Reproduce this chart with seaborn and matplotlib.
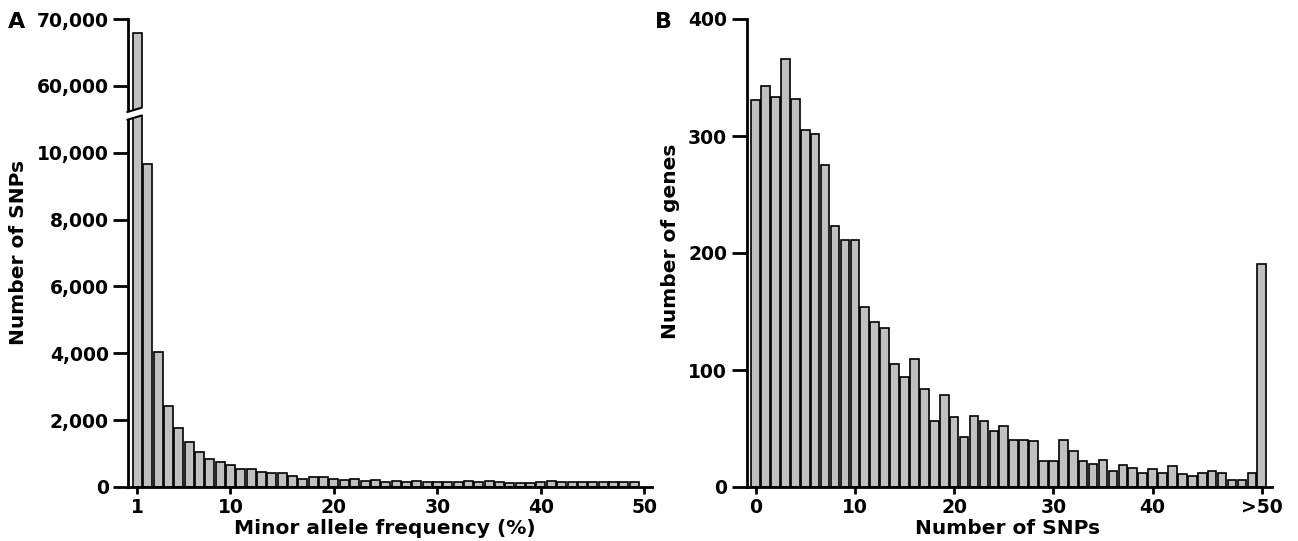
import numpy as np
import seaborn as sns
import matplotlib.pyplot as plt
from matplotlib.lines import Line2D
from matplotlib.patches import Polygon

# Panel A: minor allele frequency (%) bins 1..49
maf_pct = list(range(1, 50))
maf_counts = [67850, 9660, 4040, 2420, 1755, 1355, 1035, 840, 740, 650,
              530, 525, 460, 410, 405, 340, 250, 290, 310, 250,
              210, 240, 190, 210, 150, 190, 160, 170, 150, 150,
              150, 150, 170, 150, 170, 140, 130, 130, 130, 140,
              190, 160, 160, 160, 140, 140, 140, 140, 140]
maf_ticks = [1, 10, 20, 30, 40, 50]

# Panel B: number of SNPs per gene, 0..50 and ">50" (drawn at 51)
snp_bins = list(range(0, 52))
gene_counts = [331, 343, 333, 366, 332, 305, 302, 275, 223, 211,
               211, 154, 141, 136, 105, 94, 109, 84, 56, 79,
               60, 43, 61, 56, 48, 52, 40, 40, 39, 22,
               22, 40, 31, 22, 20, 23, 14, 19, 16, 12,
               15, 12, 18, 11, 9, 12, 14, 12, 6, 6,
               12, 191]
snp_ticks = [0, 10, 20, 30, 40, 51]
snp_ticklabels = ["0", "10", "20", "30", "40", ">50"]

sns.set_theme(style="white")
plt.rcParams["font.family"] = ["DejaVu Sans"]
plt.rcParams["font.weight"] = "bold"
plt.rcParams["text.color"] = "black"
plt.rcParams["axes.labelcolor"] = "black"
plt.rcParams["xtick.color"] = "black"
plt.rcParams["ytick.color"] = "black"

W, H = 1298, 541
fig = plt.figure(figsize=(W / 100, H / 100), dpi=100)


def fx(px):
    return px / W


def fy(py):
    return 1 - py / H


bar_kw = dict(native_scale=True, width=0.87, color="#c0c0c0", saturation=1,
              edgecolor="black", linewidth=1.2, errorbar=None)
fs = 13.5
lfs = 14.5


def style(ax, bottom=True):
    for s in ["top", "right"]:
        ax.spines[s].set_visible(False)
    for s in ["left", "bottom"]:
        ax.spines[s].set_linewidth(2)
        ax.spines[s].set_color("black")
    if not bottom:
        ax.spines["bottom"].set_visible(False)
    ax.tick_params(axis="y", length=11, width=2, colors="black", labelsize=fs, pad=3, left=True)
    ax.tick_params(axis="x", length=5, width=2, colors="black", labelsize=fs, pad=3, bottom=bottom)
    for lab in ax.get_xticklabels() + ax.get_yticklabels():
        lab.set_fontweight("bold")
    ax.set_xlabel("")
    ax.set_ylabel("")


# ---- Panel A (broken y axis) ----
ax_lo = fig.add_axes([fx(128.3), fy(487), fx(651.7) - fx(128.3), fy(115) - fy(487)])
ax_up = fig.add_axes([fx(128.3), fy(112), fx(651.7) - fx(128.3), fy(19) - fy(112)])
for ax in (ax_lo, ax_up):
    sns.barplot(x=maf_pct, y=maf_counts, ax=ax, **bar_kw)
    ax.set_xlim(0.13, 50.7)
ax_lo.set_ylim(0, 11130)
ax_up.set_ylim(56060, 70000)
lo_ticks = [0, 2000, 4000, 6000, 8000, 10000]
ax_lo.set_yticks(lo_ticks)
ax_lo.set_yticklabels([f"{v:,}" for v in lo_ticks])
ax_up.set_yticks([60000, 70000])
ax_up.set_yticklabels(["60,000", "70,000"])
ax_lo.set_xticks(maf_ticks)
ax_lo.set_xticklabels([str(t) for t in maf_ticks])
ax_up.set_xticks([])
style(ax_lo)
style(ax_up, bottom=False)
ax_lo.set_xlabel("Minor allele frequency (%)", fontsize=lfs, fontweight="bold")
ax_lo.xaxis.set_label_coords(0.49, -0.085)

# slanted break on the y axis and the first bar
inv = fig.transFigure.inverted()
x_left = inv.transform(ax_lo.transData.transform((0.13, 0)))[0]
x_right = inv.transform(ax_lo.transData.transform((1 + 0.87 / 2, 0)))[0]
y_up0 = fy(111.7)
y_lo0 = fy(119.5)


def line_y(y0, x):
    return y0 + 0.3 * (x - x_left) * W / H


xa, xb = x_left - fx(3), x_right + fx(1.5)
poly = Polygon([(xa, line_y(y_up0, xa)), (xb, line_y(y_up0, xb)),
                (xb, line_y(y_lo0, xb)), (xa, line_y(y_lo0, xa))],
               closed=True, transform=fig.transFigure, facecolor="white",
               edgecolor="none", zorder=10)
fig.add_artist(poly)
for y0 in (y_up0, y_lo0):
    fig.add_artist(Line2D([x_left - fx(1), x_right],
                          [line_y(y0, x_left - fx(1)), line_y(y0, x_right)],
                          transform=fig.transFigure, color="black", lw=1.5, zorder=11))

fig.text(fx(19), fy(252), "Number of SNPs", rotation=90, ha="center", va="center",
         fontsize=lfs, fontweight="bold")
fig.text(fx(8), fy(22), "A", ha="left", va="center", fontsize=16, fontweight="bold")

# ---- Panel B ----
ax_b = fig.add_axes([fx(746.7), fy(487), fx(1271.7) - fx(746.7), fy(19) - fy(487)])
sns.barplot(x=snp_bins, y=gene_counts, ax=ax_b, **bar_kw)
ax_b.set_xlim(-0.9, 52)
ax_b.set_ylim(0, 400)
ax_b.set_yticks([0, 100, 200, 300, 400])
ax_b.set_xticks(snp_ticks)
ax_b.set_xticklabels(snp_ticklabels)
style(ax_b)
ax_b.set_xlabel("Number of SNPs", fontsize=lfs, fontweight="bold")
ax_b.xaxis.set_label_coords(0.497, -0.0675)
fig.text(fx(670), fy(241), "Number of genes", rotation=90, ha="center", va="center",
         fontsize=lfs, fontweight="bold")
fig.text(fx(655), fy(22), "B", ha="left", va="center", fontsize=16, fontweight="bold")

fig.savefig("out.png", dpi=100, facecolor="white")
